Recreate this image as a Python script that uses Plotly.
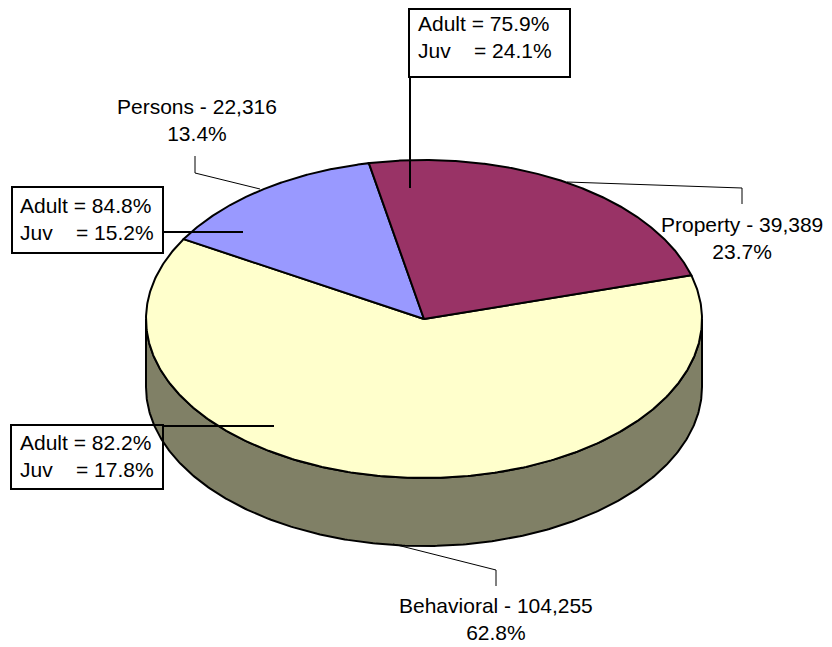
import numpy as np
import plotly.graph_objects as go

# ---- data ----
categories = ["Behavioral", "Persons", "Property"]
counts = [104255, 22316, 39389]
adult_pct = [82.2, 84.8, 75.9]
juv_pct = [17.8, 15.2, 24.1]

# ---- style / layout ----
top_colors = ["#FFFFCC", "#9999FF", "#993366"]
side_colors = ["#808066", "#5C5C99", "#5C1F3D"]
FONT = "Liberation Sans, Arial, sans-serif"
FS = 21
W, H = 832, 647
PAGE_MARGIN = 8  # default body margin of the html page
CX, CY, RX, RY, DEPTH = 424, 319, 278, 159, 68
START = 74.0  # first slice angle, degrees clockwise from 12 o'clock


def pt(theta_deg, dy=0.0):
    t = np.radians(theta_deg)
    return CX + RX * np.sin(t), CY - RY * np.cos(t) + dy


total = sum(counts)
angles = []
a = START
for v in counts:
    span = 360.0 * v / total
    angles.append((a, a + span))
    a += span

fig = go.Figure()

# side walls (front half only is visible)
for (a0, a1), c in zip(angles, side_colors):
    for lo, hi in [(90, 270), (450, 630)]:
        s0, s1 = max(a0, lo), min(a1, hi)
        if s1 > s0:
            th = np.linspace(s0, s1, 300)
            xt, yt = pt(th)
            xb, yb = pt(th[::-1], DEPTH)
            fig.add_trace(go.Scatter(
                x=np.r_[xt, xb, xt[:1]], y=np.r_[yt, yb, yt[:1]],
                mode="lines", fill="toself", fillcolor=c,
                line=dict(color="black", width=2),
                hoverinfo="skip", showlegend=False))

# top faces
for (a0, a1), c, name in zip(angles, top_colors, categories):
    th = np.linspace(a0, a1, 400)
    xa, ya = pt(th)
    fig.add_trace(go.Scatter(
        x=np.r_[CX, xa, CX], y=np.r_[CY, ya, CY],
        mode="lines", fill="toself", fillcolor=c,
        line=dict(color="black", width=2),
        name=name, hoverinfo="skip", showlegend=False))

# ---- labels ----
name_pos = {"Behavioral": (496, 618.5), "Persons": (196.5, 119.5), "Property": (742, 237.5)}
box_text_pos = {"Behavioral": (18, 455.5), "Persons": (18, 218.5), "Property": (416, 37)}
box_rects = {"Behavioral": (11, 425, 163, 489), "Persons": (12, 187, 163, 253), "Property": (409, 9, 570, 77)}
name_leaders = {
    "Persons": [(195, 156), (195, 173), (260, 189)],
    "Property": [(742, 204), (742, 188), (567, 182)],
    "Behavioral": [(496, 586), (496, 570), (393, 544)],
}
box_leaders = {
    "Property": [(410, 77), (410, 188)],
    "Persons": [(163, 232), (243, 232)],
    "Behavioral": [(163, 426), (274, 426)],
}

annotations = []
shapes = []
nb = "\u00a0"


def path_of(pts):
    return "M " + " L ".join(f"{x},{y}" for x, y in pts)


for i, name in enumerate(categories):
    pct = 100.0 * counts[i] / total
    x, y = name_pos[name]
    annotations.append(dict(
        x=x, y=y, xref="x", yref="y", xanchor="center", yanchor="middle",
        text=f"{name} - {counts[i]:,}<br>{pct:.1f}%", showarrow=False, align="center",
        font=dict(family=FONT, size=FS, color="black")))
    bx, by = box_text_pos[name]
    annotations.append(dict(
        x=bx, y=by, xref="x", yref="y", xanchor="left", yanchor="middle",
        text=f"Adult = {adult_pct[i]:.1f}%<br>Juv{nb*4}= {juv_pct[i]:.1f}%",
        showarrow=False, align="left",
        font=dict(family=FONT, size=FS, color="black")))
    x0, y0, x1, y1 = box_rects[name]
    shapes.append(dict(type="rect", xref="x", yref="y", x0=x0, y0=y0, x1=x1, y1=y1,
                       line=dict(color="black", width=2), fillcolor="rgba(0,0,0,0)"))
    shapes.append(dict(type="path", xref="x", yref="y", path=path_of(name_leaders[name]),
                       line=dict(color="black", width=1)))
    shapes.append(dict(type="path", xref="x", yref="y", path=path_of(box_leaders[name]),
                       line=dict(color="black", width=2)))

fig.update_layout(
    width=W - PAGE_MARGIN, height=H - PAGE_MARGIN,
    margin=dict(l=0, r=0, t=0, b=0),
    paper_bgcolor="white", plot_bgcolor="white",
    xaxis=dict(range=[PAGE_MARGIN, W], visible=False, fixedrange=True),
    yaxis=dict(range=[H, PAGE_MARGIN], visible=False, fixedrange=True),
    annotations=annotations, shapes=shapes,
    showlegend=False,
)

fig.write_html("out.html")
